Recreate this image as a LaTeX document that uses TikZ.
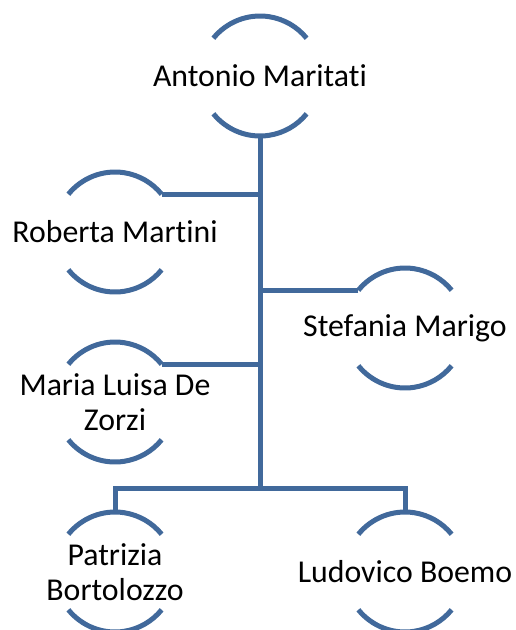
\documentclass[tikz,border=0pt]{standalone}
\usepackage{fontspec}
\setmainfont{Carlito}[Ligatures=NoCommon]
\definecolor{chartblue}{RGB}{65,105,155}

\begin{document}
\begin{tikzpicture}[x=1pt, y=1pt,
    ring/.style = {circle, minimum size=120pt, inner sep=0pt, outer sep=0pt},
    who/.style  = {align=center, font=\fontsize{31.8}{35}\selectfont},
    link/.style = {draw=chartblue, line width=5pt}]
  \useasboundingbox (0,0) rectangle (515,-630);
  % circles that carry the names
  \node[ring] (am) at (260,-76)  {};
  \node[ring] (rm) at (115,-232) {};
  \node[ring] (sm) at (405,-328) {};
  \node[ring] (ml) at (115,-402) {};
  \node[ring] (pb) at (115,-572) {};
  \node[ring] (lb) at (405,-572) {};
  \coordinate (bar) at (260,-488);
  % names
  \node[who] (amt) at (am) {Antonio Maritati};
  \node[who] (rmt) at (rm) {Roberta Martini};
  \node[who] (smt) at (sm) {Stefania Marigo};
  \node[who] (mlt) at (ml) {Maria Luisa De\\Zorzi};
  \node[who] (pbt) at (pb) {Patrizia\\Bortolozzo};
  \node[who] (lbt) at (lb) {Ludovico Boemo};
  % arcs above and below each name
  \foreach \n in {am,rm,sm,ml,pb,lb} {
    \draw[link] (\n.141) arc[start angle=141, end angle=39, radius=60pt];
    \draw[link] (\n.-141) arc[start angle=-141, end angle=-39, radius=60pt];
  }
  % connectors
  \draw[link] (am.south) -- (bar);
  \draw[link] (rm.39) -- (rm.39 -| am.south);
  \draw[link] (sm.141) -- (sm.141 -| am.south);
  \draw[link] (ml.39) -- (ml.39 -| am.south);
  \draw[link] (pb.north) -- (pb.north |- bar) -- (lb.north |- bar) -- (lb.north);
\end{tikzpicture}
\end{document}
